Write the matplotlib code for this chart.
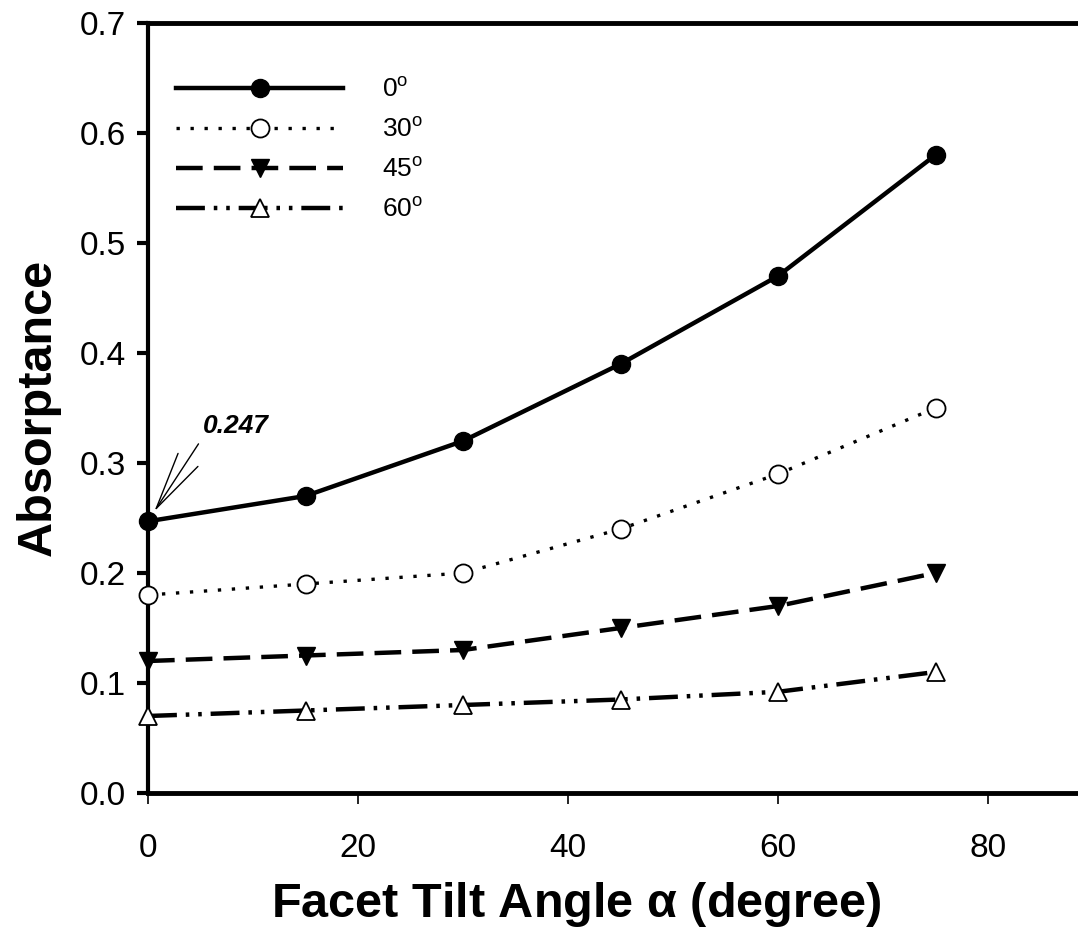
import matplotlib.pyplot as plt
from matplotlib.lines import Line2D

plt.rcParams['font.family'] = ['Liberation Sans', 'DejaVu Sans']
plt.rcParams['mathtext.fontset'] = 'custom'
plt.rcParams['mathtext.rm'] = 'Liberation Sans'

# data
tilt = [0, 15, 30, 45, 60, 75]
a0 = [0.247, 0.27, 0.32, 0.39, 0.47, 0.58]
a30 = [0.18, 0.19, 0.20, 0.24, 0.29, 0.35]
a45 = [0.12, 0.125, 0.13, 0.15, 0.17, 0.20]
a60 = [0.07, 0.075, 0.08, 0.085, 0.092, 0.11]
labels = [r'0$^\mathrm{o}$', r'30$^\mathrm{o}$', r'45$^\mathrm{o}$', r'60$^\mathrm{o}$']

fig = plt.figure(figsize=(10.78, 9.49), dpi=100)
ax = fig.add_axes([148/1078, 156/949, 930/1078, 770/949])

styles = [
    dict(ls='-', lw=3.2, marker='o', ms=13, mfc='black', mec='black'),
    dict(ls=(0, (1, 3.2)), lw=2.4, marker='o', ms=13, mfc='white', mec='black', mew=1.3),
    dict(ls=(0, (6, 2.5)), lw=3.2, marker='v', ms=13, mfc='black', mec='black'),
    dict(ls=(0, (6.5, 2, 0.8, 2, 0.8, 2)), lw=3.2, marker='^', ms=13, mfc='white', mec='black', mew=1.3),
]
series = [a0, a30, a45, a60]
for ys, st in zip(series, styles):
    ax.plot(tilt, ys, color='black', clip_on=False, zorder=3, **st)

# legend: line with the marker in the middle
handles = [Line2D([0], [0], color='black', markevery=[1], **st) for st in styles]
for h in handles:
    h.set_xdata([0, 0.5, 1])
    h.set_ydata([0, 0, 0])
leg = ax.legend(handles, labels, loc='upper left', bbox_to_anchor=(0.005, 0.96),
                frameon=False, fontsize=19, handlelength=6.3, handletextpad=1.5,
                labelspacing=0.58, numpoints=1)

ax.annotate('0.247', xy=(0.6, 0.256), xytext=(5.2, 0.334),
            fontsize=19, fontweight='bold', fontstyle='italic', ha='left', va='center',
            arrowprops=dict(arrowstyle='->,head_length=2.2,head_width=0.45', lw=1,
                            color='black', shrinkA=3, shrinkB=0, relpos=(0.0, 0.0)))

ax.set_xlim(0, 88.57)
ax.set_ylim(0, 0.7)
ax.set_xticks([0, 20, 40, 60, 80])
ax.set_yticks([0.0, 0.1, 0.2, 0.3, 0.4, 0.5, 0.6, 0.7])
ax.set_yticklabels(['0.0', '0.1', '0.2', '0.3', '0.4', '0.5', '0.6', '0.7'])
ax.tick_params(axis='both', direction='out', labelsize=24)
ax.tick_params(axis='x', length=8, width=1.2, pad=21)
ax.tick_params(axis='y', length=8, width=3, pad=8)

ax.spines['right'].set_visible(False)
ax.spines['left'].set_linewidth(3)
ax.spines['bottom'].set_linewidth(3.5)
ax.spines['top'].set_linewidth(3.5)

ax.set_xlabel(r'Facet Tilt Angle $\mathregular{\alpha}$ (degree)', fontsize=35, fontweight='bold')
ax.xaxis.set_label_coords(0.46, -0.113)
ax.set_ylabel('Absorptance', fontsize=35, fontweight='bold')
ax.yaxis.set_label_coords(-0.094, 0.501)

fig.savefig('out.png', dpi=100)
